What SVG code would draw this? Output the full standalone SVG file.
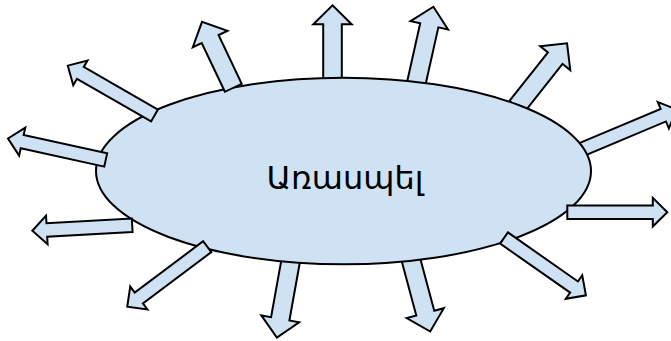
<svg xmlns="http://www.w3.org/2000/svg" xmlns:xlink="http://www.w3.org/1999/xlink" width="671" height="341" viewBox="0 0 671 341">
<style>
.ar{fill:#cfe2f3;stroke:#000;stroke-width:2;stroke-linejoin:miter}
.el{fill:#cfe2f3;stroke:#000;stroke-width:2}
.lbl{font-family:"DejaVu Sans",sans-serif;font-size:32px;fill:#000}
</style>
<defs>
<polygon id="big" points="0,-9.3 54,-9.3 54,-19.2 73,0 54,19.2 54,9.3 0,9.3"/>
<polygon id="bigb" points="-8,-9.3 54,-9.3 54,-19.2 73,0 54,19.2 54,9.3 -8,9.3"/>
<polygon id="small" points="0,-6.8 85.5,-6.8 85.5,-14.3 100,0 85.5,14.3 85.5,6.8 0,6.8"/>
<polygon id="smallb" points="-8,-6.8 85.5,-6.8 85.5,-14.3 100,0 85.5,14.3 85.5,6.8 -8,6.8"/>
</defs>
<g id="connectors-behind">
<use class="ar" xlink:href="#bigb" href="#bigb" transform="translate(332.5,78.3) rotate(-90)"/>
<use class="ar" xlink:href="#bigb" href="#bigb" transform="translate(417.5,78) rotate(-77.4)"/>
<use class="ar" xlink:href="#bigb" href="#bigb" transform="translate(521.7,100.5) rotate(-51.6)"/>
<use class="ar" xlink:href="#smallb" href="#smallb" transform="translate(584.5,148.3) rotate(-22.8)"/>
<use class="ar" xlink:href="#bigb" href="#bigb" transform="translate(289.8,265.7) rotate(100.2)"/>
<use class="ar" xlink:href="#bigb" href="#bigb" transform="translate(411.3,261) rotate(75)"/>
</g>
<g id="node-myth">
<ellipse class="el" cx="343.5" cy="171" rx="247.5" ry="93.3"/>
<text class="lbl" x="345" y="189" text-anchor="middle">Առասպել</text>
</g>
<g id="connectors">
<use class="ar" xlink:href="#big" href="#big" transform="translate(233.3,87.8) rotate(-115.4)"/>
<use class="ar" xlink:href="#small" href="#small" transform="translate(154.5,115.5) rotate(209.9)"/>
<use class="ar" xlink:href="#small" href="#small" transform="translate(105.7,160) rotate(192.4)"/>
<use class="ar" xlink:href="#small" href="#small" transform="translate(132.2,225.3) rotate(176.9)"/>
<use class="ar" xlink:href="#small" href="#small" transform="translate(207.2,246.7) rotate(143.1)"/>
<use class="ar" xlink:href="#small" href="#small" transform="translate(504,238) rotate(35)"/>
<use class="ar" xlink:href="#small" href="#small" transform="translate(567.3,212.2) rotate(0)"/>
</g>
</svg>
